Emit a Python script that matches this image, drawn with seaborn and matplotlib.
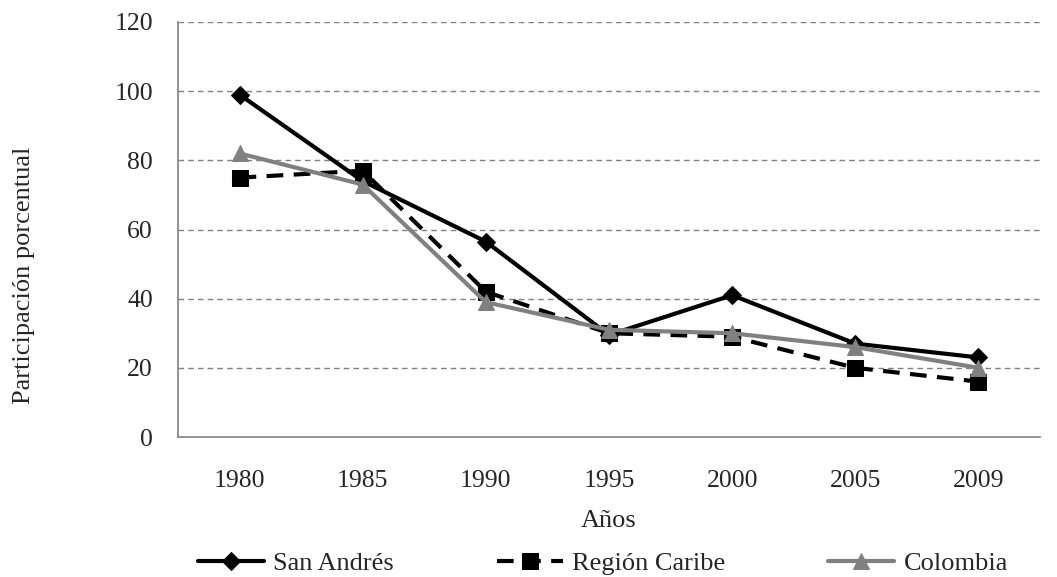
import matplotlib
matplotlib.use("Agg")
import matplotlib.pyplot as plt
import seaborn as sns
import pandas as pd
from matplotlib.ticker import FixedLocator

years = ["1980", "1985", "1990", "1995", "2000", "2005", "2009"]
san_andres = [99, 74, 56.5, 29.5, 41, 27, 23]
region_caribe = [75, 77, 42, 30, 29, 20, 16]
colombia = [82, 73, 39, 31, 30, 26, 20]
series_names = ["San Andrés", "Región Caribe", "Colombia"]
y_ticks = [0, 20, 40, 60, 80, 100, 120]

sns.set_theme(style="white")
plt.rcParams["font.family"] = ["Liberation Serif", "DejaVu Serif"]

df = pd.DataFrame({
    "year": years * 3,
    "value": san_andres + region_caribe + colombia,
    "serie": [series_names[0]] * 7 + [series_names[1]] * 7 + [series_names[2]] * 7,
})

W, H = 1057, 577
fig = plt.figure(figsize=(W / 100, H / 100), dpi=100)
ax = fig.add_axes([178 / W, 1 - 437 / H, (1040 - 178) / W, (437 - 22) / H])

for y in y_ticks[1:]:
    ax.axhline(y, color="#808080", linestyle=(0, (4, 3)), linewidth=1.0, zorder=0)

styles = {
    "San Andrés": dict(color="black", marker="D", ms=9, ls="-"),
    "Región Caribe": dict(color="black", marker="s", ms=11, ls=(0, (4, 2.5))),
    "Colombia": dict(color="#808080", marker="^", ms=12, ls="-"),
}
for name in series_names:
    st = styles[name]
    sub = df[df["serie"] == name]
    sns.lineplot(data=sub, x="year", y="value", ax=ax, sort=False,
                 color=st["color"], marker=st["marker"], markersize=st["ms"],
                 markeredgecolor=st["color"], linestyle=st["ls"], linewidth=3,
                 label=name, legend=False)

ax.set_xlim(-0.5, 6.5)
ax.set_ylim(0, 120)
ax.set_yticks(y_ticks)
ax.set_xticks(range(len(years)))
ax.set_xticklabels(years)
ax.xaxis.set_minor_locator(FixedLocator([i - 0.5 for i in range(len(years) + 1)]))
ax.tick_params(axis="x", which="major", length=0, labelsize=18.5, pad=24)
ax.tick_params(axis="x", which="minor", length=7, width=1.2, color="#808080", direction="out")
ax.tick_params(axis="y", length=7, width=1.2, color="#808080", direction="out", labelsize=18.5, pad=11)
for s in ["top", "right"]:
    ax.spines[s].set_visible(False)
for s in ["left", "bottom"]:
    ax.spines[s].set_color("#808080")
    ax.spines[s].set_linewidth(1.2)

ax.set_xlabel("Años", fontsize=19)
ax.xaxis.set_label_coords(0.5, -(510 - 437) / 415)
ax.set_ylabel("Participación porcentual", fontsize=19)
ax.yaxis.set_label_coords((35 - 178) / 862, (437 - 275) / 415)

handles, labels = ax.get_legend_handles_labels()
fig.legend(handles, labels, loc="center left", bbox_to_anchor=(198 / W, 1 - 563 / H),
           ncol=3, frameon=False, fontsize=19, handlelength=2.5, columnspacing=3.9,
           handletextpad=0.35, borderpad=0, borderaxespad=0)

fig.savefig("out.png", dpi=100, facecolor="white")
